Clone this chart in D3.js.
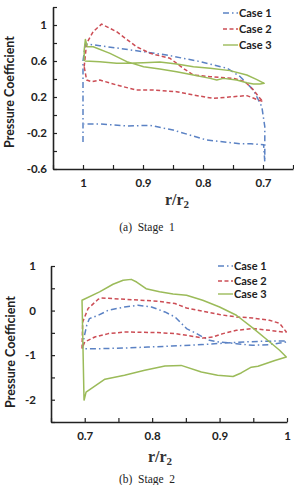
<!DOCTYPE html>
<html>
<head>
<meta charset="utf-8">
<script src="https://cdn.jsdelivr.net/npm/d3@7"></script>
<style>
  body { margin: 0; background: #fff; }
  svg { display: block; }
</style>
</head>
<body>
<svg id="chart" width="294" height="485"></svg>
<script>
const caseNames = ["Case 1", "Case 2", "Case 3"];
const caseColors = ["#5b82c4", "#cc4d55", "#9bbb59"];
const caseDashes = ["6,3,1.5,3", "4,2.5", null];

// stage 1, points are [r/r2, Cp], traced round each blade loop
const s1Case1 = [[1.0, -0.3], [1.0, 0.1], [1.0, 0.6], [0.996, 0.79], [0.972, 0.77], [0.9, 0.704],
  [0.861, 0.667], [0.805, 0.593], [0.76, 0.52], [0.738, 0.426], [0.716, 0.278], [0.702, 0.093],
  [0.697, -0.13], [0.697, -0.32], [0.697, -0.52], [0.699, -0.33], [0.72, -0.32], [0.738, -0.32],
  [0.794, -0.278], [0.85, -0.167], [0.888, -0.115], [0.927, -0.122], [0.972, -0.1], [0.998, -0.1]];
const s1Case2 = [[0.998, 0.537], [0.994, 0.796], [0.983, 0.926], [0.969, 1.01], [0.944, 0.926],
  [0.911, 0.759], [0.888, 0.685], [0.855, 0.63], [0.833, 0.519], [0.816, 0.444], [0.788, 0.426],
  [0.749, 0.407], [0.73, 0.37], [0.716, 0.278], [0.705, 0.185], [0.7, 0.15], [0.708, 0.167],
  [0.727, 0.215], [0.749, 0.204], [0.783, 0.185], [0.816, 0.222], [0.844, 0.259], [0.883, 0.278],
  [0.911, 0.278], [0.944, 0.333], [0.972, 0.389], [0.986, 0.37], [0.994, 0.389], [0.998, 0.537]];
const s1Case3 = [[0.998, 0.6], [0.998, 0.72], [0.996, 0.84], [0.993, 0.759], [0.983, 0.759],
  [0.955, 0.685], [0.927, 0.593], [0.899, 0.537], [0.872, 0.511], [0.844, 0.481], [0.816, 0.444],
  [0.788, 0.407], [0.777, 0.389], [0.766, 0.407], [0.744, 0.389], [0.727, 0.359], [0.716, 0.344],
  [0.705, 0.344], [0.698, 0.352], [0.711, 0.396], [0.727, 0.444], [0.755, 0.493], [0.788, 0.519],
  [0.816, 0.537], [0.844, 0.567], [0.872, 0.589], [0.899, 0.581], [0.927, 0.574], [0.944, 0.574],
  [0.972, 0.593], [0.997, 0.6]];

// stage 2
const s2Case1 = [[0.697, -0.85], [0.699, -0.6], [0.703, -0.33], [0.707, -0.18], [0.72, -0.106],
  [0.735, 0.007], [0.759, 0.081], [0.779, 0.119], [0.799, 0.081], [0.819, -0.031], [0.834, -0.144],
  [0.851, -0.404], [0.866, -0.517], [0.875, -0.593], [0.885, -0.667], [0.9, -0.706], [0.925, -0.742],
  [0.949, -0.78], [0.974, -0.764], [0.999, -0.706], [0.999, -0.68], [0.96, -0.69], [0.925, -0.712],
  [0.875, -0.764], [0.829, -0.796], [0.794, -0.818], [0.759, -0.84], [0.725, -0.854], [0.7, -0.854]];
const s2Case2 = [[0.696, -0.854], [0.697, -0.256], [0.705, 0.045], [0.72, 0.254], [0.725, 0.283],
  [0.759, 0.254], [0.808, 0.209], [0.834, 0.157], [0.851, 0.058], [0.875, -0.016], [0.9, -0.09],
  [0.925, -0.144], [0.949, -0.166], [0.974, -0.218], [0.989, -0.285], [0.999, -0.48],
  [0.994, -0.481], [0.974, -0.443], [0.949, -0.404], [0.925, -0.443], [0.905, -0.517],
  [0.89, -0.593], [0.875, -0.616], [0.851, -0.555], [0.834, -0.517], [0.808, -0.494],
  [0.759, -0.481], [0.735, -0.517], [0.715, -0.593], [0.7, -0.706], [0.696, -0.854]];
const s2Case3 = [[0.699, -2.02], [0.697, -0.5], [0.696, 0.232], [0.722, 0.42], [0.742, 0.59],
  [0.757, 0.68], [0.769, 0.7], [0.777, 0.64], [0.791, 0.49], [0.811, 0.42], [0.831, 0.37],
  [0.851, 0.345], [0.875, 0.23], [0.9, 0.08], [0.925, -0.105], [0.95, -0.4], [0.974, -0.7],
  [0.989, -0.89], [0.999, -1.04], [0.982, -1.12], [0.957, -1.25], [0.947, -1.27], [0.932, -1.4],
  [0.92, -1.48], [0.897, -1.45], [0.873, -1.38], [0.843, -1.23], [0.819, -1.245], [0.789, -1.34],
  [0.759, -1.45], [0.73, -1.54], [0.702, -1.83], [0.699, -2.02]];

const s1XTicks = [1.05, 1, 0.95, 0.9, 0.85, 0.8, 0.75, 0.7, 0.65];
const s1XLabels = [1, 0.9, 0.8, 0.7];
const s1YTicks = [1.2, 1, 0.8, 0.6, 0.4, 0.2, 0, -0.2, -0.4, -0.6];
const s1YLabels = [1, 0.6, 0.2, -0.2, -0.6];
const s2XTicks = [0.65, 0.7, 0.75, 0.8, 0.85, 0.9, 0.95, 1];
const s2XLabels = [0.7, 0.8, 0.9, 1];
const s2YTicks = [1, 0.5, 0, -0.5, -1, -1.5, -2, -2.5];
const s2YLabels = [1, 0, -1, -2];

const svg = d3.select("#chart");
const font = "Lato, 'Open Sans', sans-serif";
const inList = (list) => (d) => list.some((t) => Math.abs(t - d) < 1e-9) ? String(d) : "";

function panel(o) {
  const g = svg.append("g");
  const x = d3.scaleLinear().domain(o.xDomain).range(o.xRange);
  const y = d3.scaleLinear().domain(o.yDomain).range(o.yRange);
  const line = d3.line()
    .x((d) => x(d[0]))
    .y((d) => y(d[1]));

  o.series.forEach((s, i) => {
    g.append("path")
      .datum(s)
      .attr("fill", "none")
      .attr("stroke", caseColors[i])
      .attr("stroke-width", 1.5)
      .attr("stroke-dasharray", caseDashes[i])
      .attr("stroke-linejoin", "round")
      .attr("d", line);
  });

  const xAxis = g.append("g")
    .attr("transform", `translate(0,${o.yRange[0]})`)
    .call(d3.axisBottom(x).tickValues(o.xTicks).tickSize(-4).tickSizeOuter(0)
      .tickPadding(10).tickFormat(inList(o.xLabels)));
  const yAxis = g.append("g")
    .attr("transform", `translate(${o.xRange[0]},0)`)
    .call(d3.axisLeft(y).tickValues(o.yTicks).tickSize(-4).tickSizeOuter(0)
      .tickPadding(o.yPad).tickFormat(inList(o.yLabels)));
  [xAxis, yAxis].forEach((a) => {
    a.select(".domain").attr("stroke", "#222").attr("stroke-width", 1.6);
    a.selectAll(".tick line").attr("stroke", "#222").attr("stroke-width", 1.2);
    a.selectAll("text").attr("font-family", font).attr("font-weight", "bold")
      .attr("font-size", 11.5).attr("fill", "#222");
  });

  g.append("text")
    .attr("transform", `translate(${o.yTitleX},${o.yTitleY}) rotate(-90)`)
    .attr("text-anchor", "middle")
    .attr("font-family", font).attr("font-weight", "bold").attr("font-size", 12.5).attr("fill", "#222")
    .text("Pressure Coefficient");

  const xt = g.append("text")
    .attr("x", o.xTitleX).attr("y", o.xTitleY)
    .attr("text-anchor", "middle")
    .attr("font-family", "'Liberation Serif', serif").attr("font-weight", "bold")
    .attr("font-size", 16).attr("fill", "#333");
  xt.append("tspan").text("r/r");
  xt.append("tspan").attr("font-size", 11).attr("dy", 3).text("2");

  g.append("text")
    .attr("x", 147).attr("y", o.captionY)
    .attr("text-anchor", "middle")
    .attr("font-family", "'Liberation Serif', serif").attr("font-size", 11.5).attr("fill", "#222")
    .attr("xml:space", "preserve")
    .text(o.caption);

  const leg = g.append("g");
  caseNames.forEach((name, i) => {
    const ly = o.legendY[i];
    leg.append("line")
      .attr("x1", o.legendX).attr("x2", o.legendX + 15).attr("y1", ly).attr("y2", ly)
      .attr("stroke", caseColors[i]).attr("stroke-width", 1.4)
      .attr("stroke-dasharray", caseDashes[i]);
    leg.append("text")
      .attr("x", o.legendX + 16).attr("y", ly + 4)
      .attr("font-family", font).attr("font-weight", "bold").attr("font-size", 11).attr("fill", "#222")
      .text(name);
  });
}

panel({
  series: [s1Case1, s1Case2, s1Case3],
  xDomain: [1.05, 0.65], xRange: [53, 293],
  yDomain: [-0.6, 1.2], yRange: [169, 7],
  xTicks: s1XTicks, xLabels: s1XLabels, yTicks: s1YTicks, yLabels: s1YLabels,
  yPad: 6, yTitleX: 14, yTitleY: 92, xTitleX: 177, xTitleY: 205,
  caption: "(a)  Stage  1", captionY: 231,
  legendX: 223, legendY: [13, 29, 45]
});

panel({
  series: [s2Case1, s2Case2, s2Case3],
  xDomain: [0.65, 1], xRange: [51, 287],
  yDomain: [-2.5, 1], yRange: [422, 266],
  xTicks: s2XTicks, xLabels: s2XLabels, yTicks: s2YTicks, yLabels: s2YLabels,
  yPad: 15, yTitleX: 15, yTitleY: 352, xTitleX: 160, xTitleY: 462,
  caption: "(b)  Stage  2", captionY: 483,
  legendX: 218, legendY: [266, 281, 294]
});
</script>
</body>
</html>
